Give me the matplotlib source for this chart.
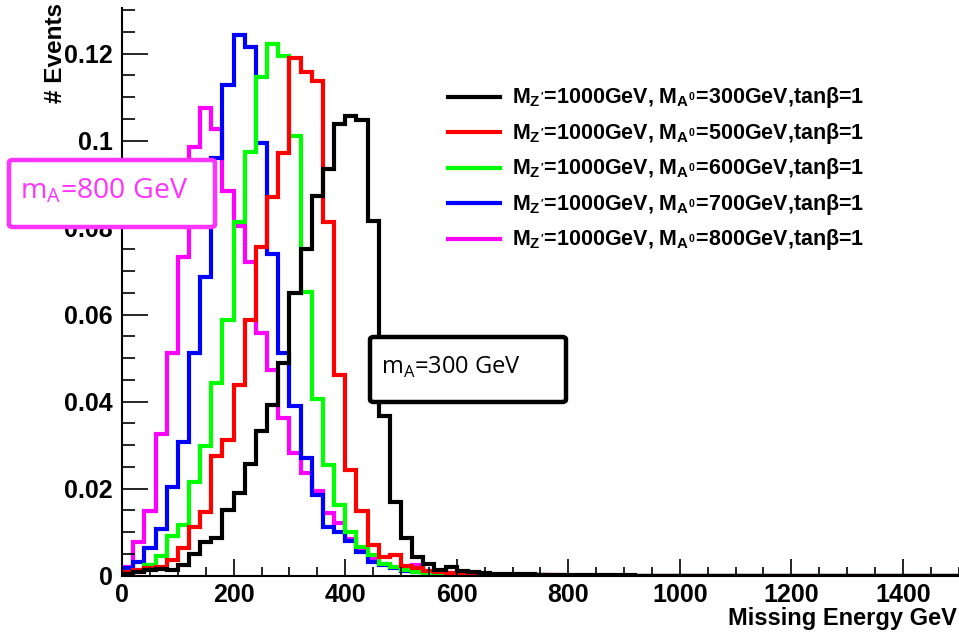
import numpy as np
import matplotlib
matplotlib.use('Agg')
import matplotlib.pyplot as plt
from matplotlib.lines import Line2D
from matplotlib.patches import FancyBboxPatch
from matplotlib.ticker import MultipleLocator, FixedLocator

# -----------------------------------------------------------------------
# Data: 75 bins of 20 GeV, 0..1500 GeV
# -----------------------------------------------------------------------
BIN_EDGES = list(range(0, 1520, 20))

MA300 = [0.0005, 0.0008, 0.0012, 0.0015, 0.0013, 0.0025, 0.0051, 0.0077, 0.0086, 0.0151,
         0.0191, 0.0256, 0.0333, 0.0392, 0.0490, 0.0649, 0.0752, 0.0873, 0.0935, 0.1038,
         0.1057, 0.1047, 0.0815, 0.0366, 0.0169, 0.0086, 0.0044, 0.0028, 0.0013, 0.0020,
         0.0011, 0.0008, 0.0006, 0.0005, 0.0004, 0.0003, 0.0003, 0.0002, 0.0002, 0.0002,
         0.0001, 0.0001, 0.0001, 0.0001, 0.0001, 0.0001, 0.0, 0.0, 0.0, 0.0,
         0.0, 0.0, 0.0, 0.0, 0.0, 0.0, 0.0, 0.0, 0.0, 0.0,
         0.0, 0.0, 0.0, 0.0, 0.0, 0.0, 0.0, 0.0, 0.0, 0.0,
         0.0, 0.0, 0.0, 0.0, 0.0]

MA500 = [0.0008, 0.0013, 0.0017, 0.0021, 0.0037, 0.0063, 0.0113, 0.0147, 0.0276, 0.0313,
         0.0438, 0.0588, 0.0756, 0.0871, 0.0971, 0.1191, 0.1157, 0.1137, 0.0812, 0.0461,
         0.0243, 0.0149, 0.0070, 0.0044, 0.0048, 0.0023, 0.0017, 0.0010, 0.0008, 0.0006,
         0.0004, 0.0003, 0.0003, 0.0002, 0.0002, 0.0001, 0.0001, 0.0001, 0.0001, 0.0001,
         0.0, 0.0, 0.0, 0.0, 0.0, 0.0, 0.0, 0.0, 0.0, 0.0,
         0.0, 0.0, 0.0, 0.0, 0.0, 0.0, 0.0, 0.0, 0.0, 0.0,
         0.0, 0.0, 0.0, 0.0, 0.0, 0.0, 0.0, 0.0, 0.0, 0.0,
         0.0, 0.0, 0.0, 0.0, 0.0]

MA600 = [0.0009, 0.0013, 0.0025, 0.0046, 0.0091, 0.0116, 0.0216, 0.0299, 0.0444, 0.0588,
         0.0812, 0.0975, 0.1146, 0.1222, 0.1195, 0.1011, 0.0653, 0.0406, 0.0254, 0.0162,
         0.0100, 0.0065, 0.0048, 0.0028, 0.0020, 0.0013, 0.0009, 0.0007, 0.0005, 0.0004,
         0.0003, 0.0003, 0.0002, 0.0002, 0.0001, 0.0001, 0.0001, 0.0001, 0.0, 0.0,
         0.0, 0.0, 0.0, 0.0, 0.0, 0.0, 0.0, 0.0, 0.0, 0.0,
         0.0, 0.0, 0.0, 0.0, 0.0, 0.0, 0.0, 0.0, 0.0, 0.0,
         0.0, 0.0, 0.0, 0.0, 0.0, 0.0, 0.0, 0.0, 0.0, 0.0,
         0.0, 0.0, 0.0, 0.0, 0.0]

MA700 = [0.0017, 0.0031, 0.0063, 0.0107, 0.0203, 0.0308, 0.0513, 0.0687, 0.0961, 0.1128,
         0.1243, 0.1216, 0.0994, 0.0739, 0.0513, 0.0390, 0.0270, 0.0185, 0.0111, 0.0100,
         0.0080, 0.0054, 0.0032, 0.0025, 0.0017, 0.0010, 0.0008, 0.0006, 0.0005, 0.0004,
         0.0003, 0.0002, 0.0002, 0.0002, 0.0001, 0.0001, 0.0001, 0.0001, 0.0, 0.0,
         0.0, 0.0, 0.0, 0.0, 0.0, 0.0, 0.0, 0.0, 0.0, 0.0,
         0.0, 0.0, 0.0, 0.0, 0.0, 0.0, 0.0, 0.0, 0.0, 0.0,
         0.0, 0.0, 0.0, 0.0, 0.0, 0.0, 0.0, 0.0, 0.0, 0.0,
         0.0, 0.0, 0.0, 0.0, 0.0]

MA800 = [0.0021, 0.0077, 0.0149, 0.0325, 0.0513, 0.0733, 0.0985, 0.1076, 0.1027, 0.0884,
         0.0805, 0.0720, 0.0559, 0.0473, 0.0362, 0.0281, 0.0235, 0.0195, 0.0143, 0.0122,
         0.0085, 0.0060, 0.0040, 0.0028, 0.0020, 0.0015, 0.0025, 0.0010, 0.0008, 0.0006,
         0.0004, 0.0003, 0.0003, 0.0002, 0.0002, 0.0001, 0.0001, 0.0001, 0.0001, 0.0,
         0.0, 0.0, 0.0, 0.0, 0.0, 0.0, 0.0, 0.0, 0.0, 0.0,
         0.0, 0.0, 0.0, 0.0, 0.0, 0.0, 0.0, 0.0, 0.0, 0.0,
         0.0, 0.0, 0.0, 0.0, 0.0, 0.0, 0.0, 0.0, 0.0, 0.0,
         0.0, 0.0, 0.0, 0.0, 0.0]

MASSES = ["300", "500", "600", "700", "800"]
COLORS = ["#000000", "#ff0000", "#00ff00", "#0000ff", "#ff00ff"]
SERIES = [MA300, MA500, MA600, MA700, MA800]

X_TICKS = [0, 200, 400, 600, 800, 1000, 1200, 1400]
Y_TICKS = [0, 0.02, 0.04, 0.06, 0.08, 0.1, 0.12]
Y_TICK_LABELS = ["0", "0.02", "0.04", "0.06", "0.08", "0.1", "0.12"]

W, H = 959, 637
BOLD = 'Liberation Sans'

plt.rcParams['mathtext.fontset'] = 'custom'
plt.rcParams['mathtext.rm'] = 'Liberation Sans:bold'
plt.rcParams['mathtext.it'] = 'Liberation Sans:bold'
plt.rcParams['mathtext.bf'] = 'Liberation Sans:bold'


def px(x, y):
    # pixel (from top-left) -> figure fraction
    return x / W, 1 - y / H


fig = plt.figure(figsize=(W / 100, H / 100), dpi=100)
left, bottom = px(122.1, 575.7)
right, top = px(958.7, 8.0)
ax = fig.add_axes([left, bottom, right - left, top - bottom])

# draw in reverse so black ends on top
for vals, col in reversed(list(zip(SERIES, COLORS))):
    ax.stairs(vals, BIN_EDGES, color=col, linewidth=3.0, baseline=0)

ax.set_xlim(0, 1500)
ax.set_ylim(0, 0.1305)

ax.spines['top'].set_visible(False)
ax.spines['right'].set_visible(False)
ax.spines['left'].set_linewidth(1.5)
ax.spines['bottom'].set_linewidth(1.5)

ax.xaxis.set_major_locator(FixedLocator(X_TICKS))
ax.xaxis.set_minor_locator(MultipleLocator(50))
ax.set_yticks(Y_TICKS)
ax.set_yticklabels(Y_TICK_LABELS)
ax.yaxis.set_minor_locator(MultipleLocator(0.005))

ax.tick_params(axis='x', which='major', direction='in', length=12, width=1.2, pad=5)
ax.tick_params(axis='x', which='minor', direction='in', length=6.5, width=1.2)
ax.tick_params(axis='y', which='major', direction='in', length=19, width=1.2, pad=7)
ax.tick_params(axis='y', which='minor', direction='in', length=9.5, width=1.2)
for lab in ax.get_xticklabels() + ax.get_yticklabels():
    lab.set_fontfamily(BOLD)
    lab.set_fontweight('bold')
    lab.set_fontsize(18)

fig.text(*px(957, 619), "Missing Energy GeV", ha='right', va='center',
         fontsize=17, fontweight='bold', family=BOLD)
fig.text(*px(55, 3), "# Events", ha='center', va='top', rotation=90,
         fontsize=17.5, fontweight='bold', family=BOLD)

# legend drawn by hand (no frame, ROOT-like)
for i, (m, col) in enumerate(zip(MASSES, COLORS)):
    yy = 97 + 35.4 * i
    x0, y0 = px(448, yy)
    x1, _ = px(500, yy)
    fig.add_artist(Line2D([x0, x1], [y0, y0], color=col, linewidth=3.0,
                          transform=fig.transFigure))
    fig.text(*px(512, yy + 1), r"$M_{Z'}$=1000GeV, $M_{A^0}$=" + m + r"GeV,tan$\beta$=1",
             ha='left', va='center', fontsize=15.5, fontweight='bold',
             family='Liberation Sans')

# annotation boxes
for (bx0, by0, bx1, by1), col, txt, fs in [((9, 160, 215, 227), "#ff33ff", r"m$_\mathregular{A}$=800 GeV", 20.5),
                                            ((370, 337, 566, 402), "#000000", r"m$_\mathregular{A}$=300 GeV", 17)]:
    fx0, fy1 = px(bx0, by0)
    fx1, fy0 = px(bx1, by1)
    box = FancyBboxPatch((fx0, fy0), fx1 - fx0, fy1 - fy0,
                         boxstyle="round,pad=0,rounding_size=0.004",
                         transform=fig.transFigure, facecolor='white',
                         edgecolor=col, linewidth=3.2, zorder=10)
    fig.add_artist(box)
    fig.text(fx0 + 0.011, (fy0 + fy1) / 2 + 0.004, txt, ha='left', va='center',
             fontsize=fs, color=col, family='Open Sans', zorder=11,
             math_fontfamily='dejavusans')

fig.savefig("out.png", dpi=100)
